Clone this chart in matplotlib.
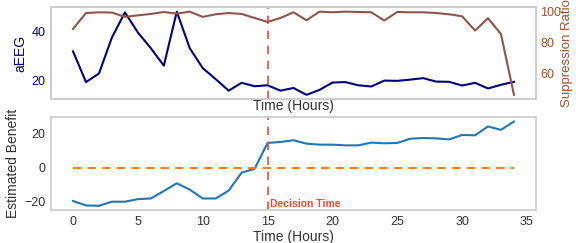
import matplotlib
matplotlib.use("Agg")
import matplotlib.pyplot as plt
import numpy as np

# data
hours = list(range(35))
aeeg = [32.0, 19.5, 23.0, 37.7, 47.9, 39.7, 33.3, 26.2, 48.2, 33.3,
        25.2, 20.7, 16.0, 19.2, 17.8, 18.2, 16.0, 17.1, 14.3, 16.3,
        19.3, 19.5, 18.2, 17.7, 20.1, 20.0, 20.5, 21.1, 19.7, 19.6,
        18.1, 19.2, 16.9, 18.4, 19.6]
suppression = [88.8, 99.1, 99.6, 99.4, 96.6, 97.6, 98.5, 99.8, 98.7, 100.0,
               96.6, 98.3, 99.1, 98.5, 95.9, 93.3, 95.9, 99.6, 94.4, 100.0,
               99.6, 100.0, 99.8, 99.6, 94.2, 99.8, 99.6, 99.6, 99.1, 98.3,
               97.0, 87.7, 95.7, 85.4, 45.8]
benefit = [-19.5, -22.1, -22.3, -19.9, -19.9, -18.4, -18.0, -13.6, -9.1, -12.8,
           -18.0, -18.0, -13.4, -2.8, -0.6, 14.6, 15.2, 16.2, 14.2, 13.6,
           13.6, 13.2, 13.2, 14.8, 14.4, 14.6, 17.1, 17.5, 17.3, 16.7,
           19.3, 19.1, 24.3, 22.3, 27.2]
decision_time = 15

plt.rcParams["font.family"] = ["Liberation Sans", "DejaVu Sans"]
plt.rcParams["font.size"] = 9

GRID = "#cccccc"
TEXT = "#333333"
LINE_RED = "#f5482e"
TICK_SIZE = 9
LABEL_SIZE = 10


def style_axes(ax):
    for spine in ax.spines.values():
        spine.set_color(GRID)
        spine.set_linewidth(1.2)
    ax.tick_params(length=0, colors=TEXT, labelsize=TICK_SIZE, pad=4)


fig = plt.figure(figsize=(5.76, 2.43), dpi=100)
ax1 = fig.add_axes([51 / 576, 1 - 99 / 243, 485 / 576, 91.5 / 243])
ax2 = fig.add_axes([51 / 576, 1 - 210 / 243, 485 / 576, 92.7 / 243], sharex=ax1)

# top panel: aEEG + suppression ratio
ax1.plot(hours, aeeg, color="navy", linewidth=1.5)
ax1.set_ylabel("aEEG", color="navy", fontsize=LABEL_SIZE, labelpad=3)
ax1.set_xlabel("Time (Hours)", color=TEXT, fontsize=LABEL_SIZE, labelpad=0)
ax1.set_yticks([20, 40])
style_axes(ax1)
ax1.tick_params(axis="y", colors="navy")
ax1.tick_params(axis="x", labelbottom=False)
ax1.axvline(decision_time, color=LINE_RED, linestyle="--", linewidth=1.2,
            dashes=(5, 4))

ax1r = ax1.twinx()
ax1r.plot(hours, suppression, color="#8c564b", linewidth=1.5)
ax1r.set_ylabel("Suppression Ratio", color="#a0522d", fontsize=9.5,
                labelpad=0)
ax1r.set_yticks([60, 80, 100])
style_axes(ax1r)
ax1r.tick_params(axis="y", colors="#a0522d", pad=3)

# bottom panel: estimated benefit
ax2.plot(hours, benefit, color="#1f77b4", linewidth=1.5)
ax2.plot(hours, np.zeros(len(hours)), color="#ff7f0e", linestyle="--",
         linewidth=1.5, dashes=(4, 3))
ax2.axvline(decision_time, color=LINE_RED, linestyle="--", linewidth=1.2,
            dashes=(5, 4))
ax2.text(decision_time + 0.2, -21, "Decision Time", color=LINE_RED,
         fontsize=7.5, fontweight="bold", va="center", ha="left")
ax2.set_ylabel("Estimated Benefit", color=TEXT, fontsize=LABEL_SIZE, labelpad=3)
ax2.set_xlabel("Time (Hours)", color=TEXT, fontsize=LABEL_SIZE, labelpad=2)
ax2.set_xticks([0, 5, 10, 15, 20, 25, 30, 35])
ax2.set_yticks([-20, 0, 20])
style_axes(ax2)

fig.savefig("out.png", dpi=100)
